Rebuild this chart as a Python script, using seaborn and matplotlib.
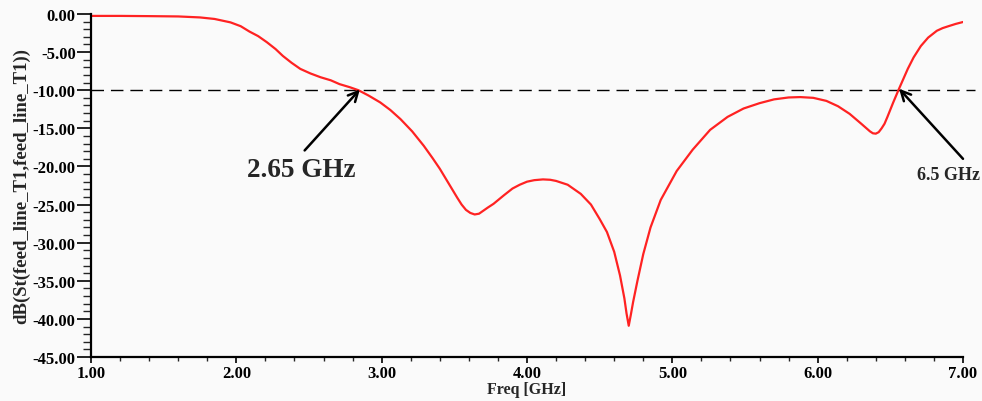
import matplotlib
matplotlib.use("Agg")
import matplotlib.pyplot as plt
from matplotlib.ticker import MultipleLocator, FormatStrFormatter
import seaborn as sns
import pandas as pd

freq_ghz = [1.00, 1.20, 1.40, 1.60, 1.75, 1.85, 1.96, 2.03, 2.09, 2.15, 2.21, 2.27,
            2.32, 2.38, 2.44, 2.51, 2.58, 2.65, 2.71, 2.78, 2.84, 2.91, 2.99, 3.06,
            3.13, 3.21, 3.29, 3.35, 3.40, 3.46, 3.52, 3.55, 3.58, 3.61, 3.64, 3.67,
            3.70, 3.73, 3.77, 3.84, 3.90, 3.95, 4.00, 4.05, 4.11, 4.16, 4.20, 4.28,
            4.37, 4.44, 4.50, 4.55, 4.60, 4.64, 4.67, 4.685, 4.70, 4.715, 4.73, 4.76,
            4.80, 4.85, 4.92, 5.03, 5.14, 5.26, 5.38, 5.49, 5.60, 5.70, 5.80, 5.88,
            5.97, 6.06, 6.14, 6.22, 6.30, 6.36, 6.38, 6.40, 6.42, 6.44, 6.46, 6.48,
            6.52, 6.56, 6.62, 6.66, 6.71, 6.76, 6.82, 6.86, 6.90, 6.95, 7.00]
s11_db = [-0.25, -0.25, -0.28, -0.32, -0.45, -0.65, -1.1, -1.6, -2.3, -2.9, -3.7, -4.6,
          -5.5, -6.4, -7.2, -7.8, -8.3, -8.7, -9.2, -9.6, -10.0, -10.7, -11.6, -12.6,
          -13.8, -15.4, -17.3, -18.9, -20.3, -22.2, -24.1, -25.0, -25.7, -26.1, -26.3, -26.2,
          -25.8, -25.4, -24.9, -23.8, -22.9, -22.4, -22.0, -21.8, -21.7, -21.75, -21.9, -22.4,
          -23.6, -25.0, -26.9, -28.6, -31.2, -34.3, -37.3, -39.3, -40.9, -39.4, -37.8, -35.0,
          -31.5, -28.0, -24.4, -20.6, -17.8, -15.2, -13.5, -12.4, -11.7, -11.2, -10.95, -10.9,
          -11.0, -11.4, -12.1, -13.1, -14.4, -15.4, -15.65, -15.7, -15.5, -15.0, -14.4, -13.5,
          -11.6, -9.8, -7.2, -5.7, -4.2, -3.1, -2.2, -1.85, -1.6, -1.3, -1.05]

threshold_db = -10.0
annot_labels = ["2.65 GHz", "6.5 GHz"]
annot_heads = [(2.85, -9.9), (6.56, -9.8)]
annot_tails = [(2.47, -17.9), (7.00, -19.0)]
annot_text_pos = [(2.45, -20.4), (6.90, -21.1)]
annot_sizes = [19.5, 13]

x_ticks = [1, 2, 3, 4, 5, 6, 7]
y_ticks = [0, -5, -10, -15, -20, -25, -30, -35, -40, -45]

df = pd.DataFrame({"Freq": freq_ghz, "dB": s11_db})

sns.set_style("ticks")
plt.rcParams['font.family'] = ['Liberation Serif', 'DejaVu Serif']
plt.rcParams['font.weight'] = 'bold'

bg = '#fafafa'
fig = plt.figure(figsize=(9.82, 4.02), dpi=100, facecolor=bg)
ax = fig.add_axes([91/982, 1-358/402, (963-91)/982, (358-15)/402])
ax.set_facecolor(bg)

sns.lineplot(data=df, x="Freq", y="dB", ax=ax, color='#ff2222', linewidth=1.6,
             sort=False, estimator=None)

ax.axhline(threshold_db, xmin=0, xmax=1.014, color='black', linewidth=1.0,
           linestyle=(0, (9, 5)), clip_on=False, zorder=1)

ax.set_xlim(1, 7)
ax.set_ylim(-45, 0)
ax.set_xticks(x_ticks)
ax.set_yticks(y_ticks)
ax.xaxis.set_minor_locator(MultipleLocator(0.2))
ax.yaxis.set_minor_locator(MultipleLocator(1))
ax.xaxis.set_major_formatter(FormatStrFormatter('%.2f'))
ax.yaxis.set_major_formatter(FormatStrFormatter('%.2f'))

for s in ['top', 'right']:
    ax.spines[s].set_visible(False)
for s in ['left', 'bottom']:
    ax.spines[s].set_linewidth(1.6)
    ax.spines[s].set_color('black')

ax.tick_params(axis='y', which='major', direction='out', length=10, width=1.2,
               labelsize=12, pad=1, colors='black')
ax.tick_params(axis='y', which='minor', direction='out', length=6, width=1.0)
ax.tick_params(axis='x', which='major', direction='out', length=4, width=1.2,
               labelsize=12, pad=2, colors='black')
ax.tick_params(axis='x', which='minor', direction='out', length=3, width=1.0)
for lab in ax.get_xticklabels() + ax.get_yticklabels():
    lab.set_fontweight('bold')

ax.set_xlabel("Freq [GHz]", fontsize=11.5, fontweight='bold', labelpad=0)
ax.set_ylabel("dB(St(feed_line_T1,feed_line_T1))", fontsize=13.5, fontweight='bold', labelpad=2)

for lab, head, tail, tpos, size in zip(annot_labels, annot_heads, annot_tails,
                                       annot_text_pos, annot_sizes):
    ax.annotate('', xy=head, xytext=tail, annotation_clip=False,
                arrowprops=dict(arrowstyle='->,head_length=0.7,head_width=0.35',
                                color='black', lw=1.8, shrinkA=0, shrinkB=0))
    ax.text(tpos[0], tpos[1], lab, fontsize=size, fontweight='bold',
            ha='center', va='center', clip_on=False)

fig.savefig("out.png", dpi=100, facecolor=bg)
